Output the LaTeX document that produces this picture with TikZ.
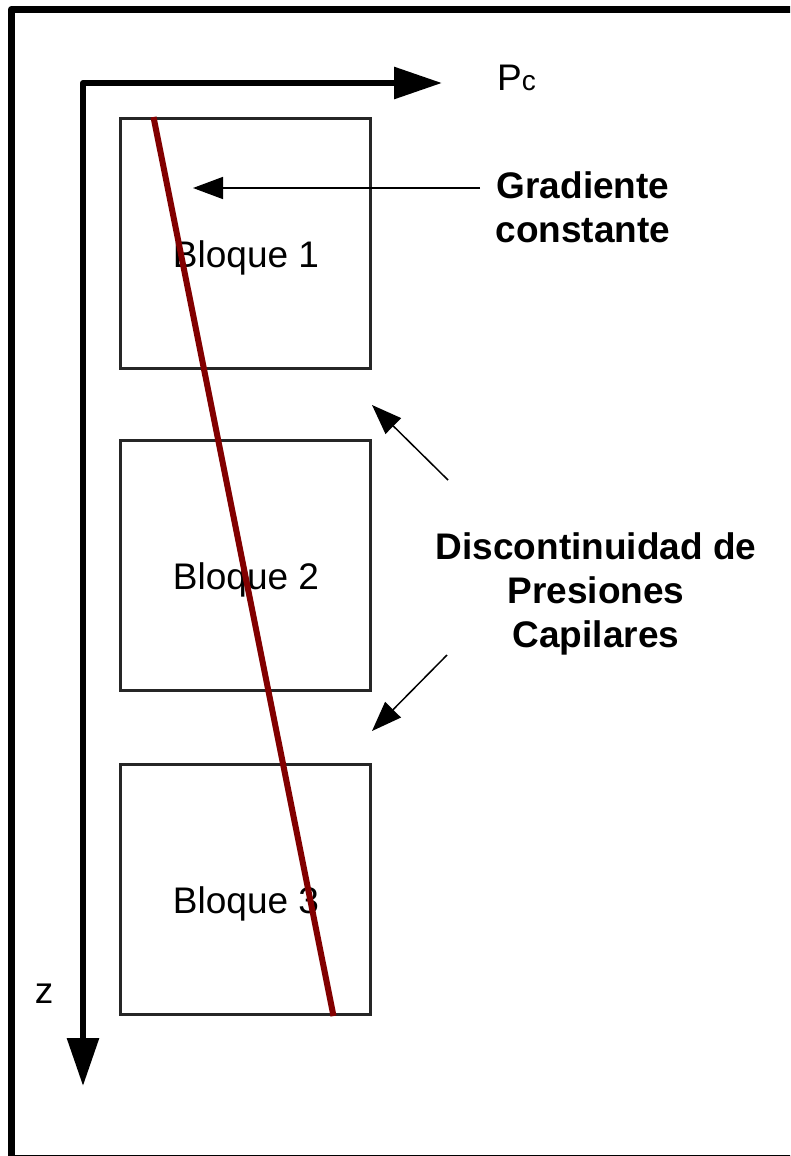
\documentclass[tikz,border=0pt]{standalone}
\usepackage{fontspec}
\setmainfont{Liberation Sans}
\usetikzlibrary{arrows.meta,calc}
\definecolor{darkred}{RGB}{130,0,0}
\tikzset{
 block/.style={draw=black!85, line width=3pt, minimum width=250pt, minimum height=250pt, inner sep=0pt},
 blocklabel/.style={font=\fontsize{37}{44}\selectfont, inner sep=0pt, anchor=base},
 axisline/.style={line width=6pt, line join=round, {Triangle[length=48pt,width=31pt]}-{Triangle[length=48pt,width=31pt]}},
 pointer/.style={line width=1.5pt, -{Triangle[length=30pt,width=22pt]}},
 boldlabel/.style={font=\fontsize{37}{43.7}\selectfont\bfseries, align=center, inner sep=0pt, anchor=base},
 gradline/.style={draw=darkred, line width=6pt},
}
\begin{document}
\begin{tikzpicture}[x=1pt,y=-1pt]
\useasboundingbox (0,0) rectangle (790,1156);
\clip (0,0) rectangle (790,1156);
% outer frame
\draw[line width=7.5pt, line join=round] (11.5,9.5) rectangle (800,1158.5);
% axes
\coordinate (O) at (83,83);
\coordinate (xtip) at (442,83);
\coordinate (ztip) at (83,1086);
\draw[axisline] (xtip) -- (O) -- (ztip);
\node[font=\fontsize{37}{44}\selectfont, inner sep=0pt, anchor=base west] (pc) at (497,90) {P{\fontsize{28}{30}\selectfont c}};
\node[font=\fontsize{37}{44}\selectfont, inner sep=0pt, anchor=base] (z) at (44,1003) {z};
% blocks
\node[block] (b1) at (245,243.5) {};
\node[block] (b2) at (245,565.5) {};
\node[block] (b3) at (245,889.5) {};
\node[blocklabel] (l1) at ($(b1.center)+(1,24)$) {Bloque 1};
\node[blocklabel] (l2) at ($(b2.center)+(1,24)$) {Bloque 2};
\node[blocklabel] (l3) at ($(b3.center)+(1,24)$) {Bloque 3};
% constant gradient line
\coordinate (rtop) at ($(b1.north west)+(35,0)$);
\coordinate (rbot) at ($(b3.south west)+(215,0)$);
\draw[gradline] (rtop) -- (rbot);
% labels and pointers
\node[boldlabel] (grad) at (583,242) {Gradiente\\constante};
\coordinate (gtip) at (193,188);
\coordinate (gstart) at (480,188);
\draw[pointer] (gstart) -- (gtip);
\node[boldlabel] (disc) at (596,647) {Discontinuidad de\\Presiones\\Capilares};
\coordinate (d1s) at (448,480);
\coordinate (d1t) at (372,405);
\coordinate (d2s) at (447,655);
\coordinate (d2t) at (372,731);
\draw[pointer] (d1s) -- (d1t);
\draw[pointer] (d2s) -- (d2t);
\end{tikzpicture}
\end{document}
